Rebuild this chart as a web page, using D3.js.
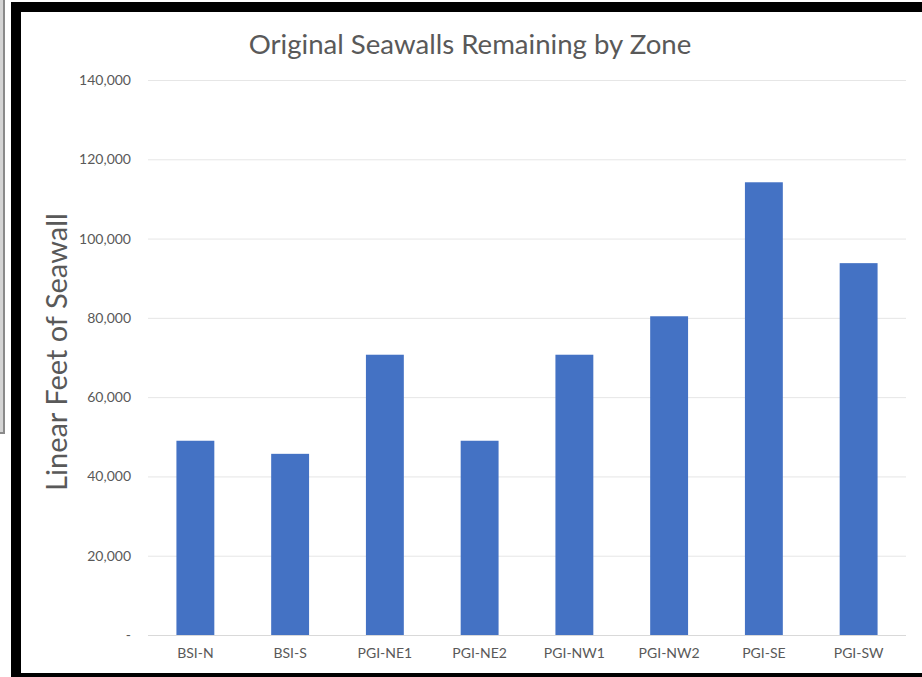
<!DOCTYPE html>
<html>
<head>
<meta charset="utf-8">
<script src="https://cdn.jsdelivr.net/npm/d3@7"></script>
<style>
  body { margin: 0; background: #fff; }
  svg { display: block; font-family: Lato, "Open Sans", sans-serif; }
</style>
</head>
<body>
<div id="chart"></div>
<script>
// data
const zones = ["BSI-N", "BSI-S", "PGI-NE1", "PGI-NE2", "PGI-NW1", "PGI-NW2", "PGI-SE", "PGI-SW"];
const feet = [49000, 45700, 70700, 49000, 70700, 80400, 114200, 93800];
const yTicks = [0, 20000, 40000, 60000, 80000, 100000, 120000, 140000];
const tickLabels = ["-", "20,000", "40,000", "60,000", "80,000", "100,000", "120,000", "140,000"];

const width = 922, height = 677;
const plot = {left: 148, right: 906, top: 80, bottom: 635};
const textColor = "#595959";
const font = "Lato, 'Open Sans', sans-serif";

const svg = d3.select("#chart").append("svg")
    .attr("width", width)
    .attr("height", height);

svg.append("rect").attr("width", width).attr("height", height).attr("fill", "#fff");

// window edge on the far left
svg.append("rect").attr("x", 0).attr("y", 0).attr("width", 3).attr("height", 433).attr("fill", "#d4d4d4");
svg.append("rect").attr("x", 3).attr("y", 0).attr("width", 2).attr("height", 433).attr("fill", "#8a8a8a");
svg.append("rect").attr("x", 0).attr("y", 432).attr("width", 5).attr("height", 2).attr("fill", "#8a8a8a");

// black frame
svg.append("rect").attr("x", 11).attr("y", 2).attr("width", width - 11).attr("height", 10).attr("fill", "#000");
svg.append("rect").attr("x", 11).attr("y", 2).attr("width", 10).attr("height", height - 2).attr("fill", "#000");
svg.append("rect").attr("x", 11).attr("y", 673).attr("width", width - 11).attr("height", 4).attr("fill", "#000");

const x = d3.scaleBand()
    .domain(zones)
    .range([plot.left, plot.right])
    .paddingInner(0.6)
    .paddingOuter(0.3);

const y = d3.scaleLinear()
    .domain([0, 140000])
    .range([plot.bottom, plot.top]);

// gridlines
svg.append("g").attr("class", "grid")
  .selectAll("line")
  .data(yTicks)
  .join("line")
    .attr("x1", plot.left)
    .attr("x2", plot.right)
    .attr("y1", d => y(d) + 0.5)
    .attr("y2", d => y(d) + 0.5)
    .attr("stroke", d => d === 0 ? "#d9d9d9" : "#e6e6e6")
    .attr("stroke-width", 1);

// y axis labels
const yAxis = d3.axisLeft(y)
    .tickValues(yTicks)
    .tickSize(0)
    .tickPadding(17)
    .tickFormat((d, i) => tickLabels[i]);
const yg = svg.append("g")
    .attr("transform", `translate(${plot.left},0)`)
    .call(yAxis)
    .attr("font-family", font);
yg.select(".domain").remove();
yg.selectAll("text")
    .attr("fill", textColor)
    .style("font-size", "14px");

// bars
svg.append("g").attr("class", "bars")
  .selectAll("rect")
  .data(zones)
  .join("rect")
    .attr("x", d => x(d))
    .attr("y", (d, i) => y(feet[i]))
    .attr("width", x.bandwidth())
    .attr("height", (d, i) => y(0) - y(feet[i]))
    .attr("fill", "#4472c4");

// x axis labels
const xAxis = d3.axisBottom(x).tickSize(0).tickPadding(13);
const xg = svg.append("g")
    .attr("transform", `translate(0,${plot.bottom})`)
    .call(xAxis)
    .attr("font-family", font);
xg.select(".domain").remove();
xg.selectAll("text")
    .attr("fill", textColor)
    .style("font-size", "14px");

// title
svg.append("text")
    .attr("x", 470)
    .attr("y", 54)
    .attr("text-anchor", "middle")
    .attr("fill", textColor)
    .style("font-size", "27.6px")
    .text("Original Seawalls Remaining by Zone");

// y axis title
svg.append("text")
    .attr("transform", "translate(67,352) rotate(-90)")
    .attr("text-anchor", "middle")
    .attr("fill", textColor)
    .style("font-size", "29px")
    .text("Linear Feet of Seawall");
</script>
</body>
</html>
